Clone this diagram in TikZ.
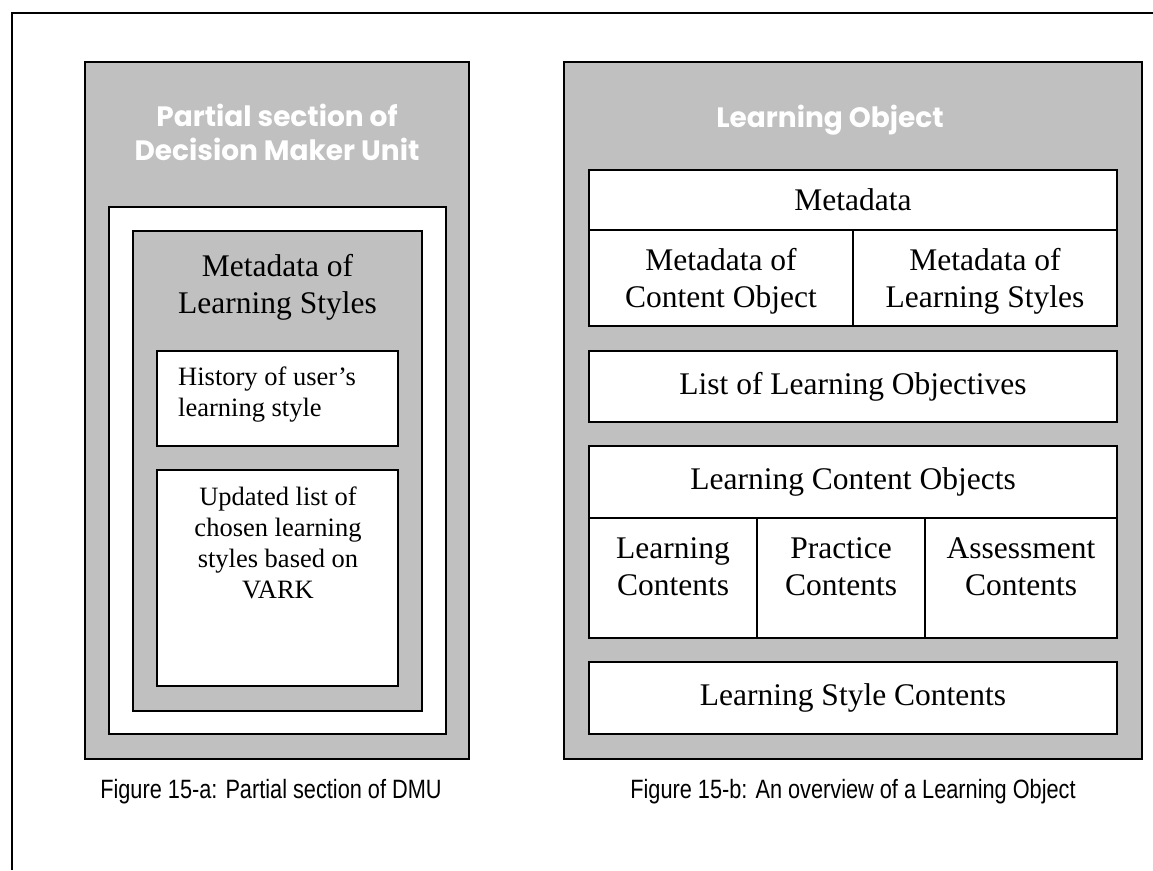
\documentclass[tikz,border=0pt]{standalone}
\usepackage{fontspec}
\setmainfont{Liberation Serif}
\newfontfamily\titlefont{Poppins}
\newfontfamily\capfont[FakeStretch=0.82]{Liberation Sans}
\definecolor{silverg}{HTML}{C0C0C0}
\begin{document}
\begin{tikzpicture}[x=1pt,y=-1pt,
  box/.style={draw=black,line width=1.6pt,inner sep=0pt,outer sep=0pt,rectangle},
  graybox/.style={box,fill=silverg},
  whitebox/.style={box,fill=white},
  ttl/.style={font=\titlefont\bfseries\fontsize{28}{34}\selectfont,text=white,align=center,inner sep=0pt},
  big/.style={font=\fontsize{31.5}{37}\selectfont,align=center,inner sep=0pt},
  small/.style={font=\fontsize{26.5}{31}\selectfont,inner sep=0pt},
  figcap/.style={font=\capfont\fontsize{26.5}{31}\selectfont,inner sep=0pt,anchor=base}
]
\useasboundingbox (0,0) rectangle (1153,870);
\draw[line width=2pt] (12,870) -- (12,13) -- (1153,13);

% ---- left figure ----
\node[graybox,minimum width=384pt,minimum height=697pt] (lgray) at (277,410.5) {};
\node[ttl,anchor=base] (ltitle) at (277,160) {Partial section of\\Decision Maker Unit};
\node[whitebox,minimum width=337pt,minimum height=527pt] (lwhite) at (277.5,470.5) {};
\node[graybox,minimum width=289pt,minimum height=480pt] (lgray2) at (277.5,471) {};
\node[big,anchor=base] (lmeta) at (277.5,313) {Metadata of\\Learning Styles};
\node[whitebox,minimum width=241pt,minimum height=95pt] (hist) at (277.5,398.5) {};
\node[small,align=left,anchor=base west] (histtxt) at (178,416) {History of user’s\\learning style};
\node[whitebox,minimum width=241pt,minimum height=216pt] (upd) at (277.5,578) {};
\node[small,align=center,anchor=base] (updtxt) at (278,598) {Updated list of\\chosen learning\\styles based on\\VARK};
\node[figcap] (capa) at (271,798) {Figure 15-a: Partial section of DMU};

% ---- right figure ----
\node[graybox,minimum width=578pt,minimum height=697pt] (rgray) at (853,410.5) {};
\node[ttl,anchor=base] (rtitle) at (830,127) {Learning Object};
\node[whitebox,minimum width=528pt,minimum height=60pt,big] (meta) at (853,200) {Metadata};
\node[whitebox,minimum width=264pt,minimum height=96pt] (mco) at (721,278) {};
\node[whitebox,minimum width=264pt,minimum height=96pt] (mls) at (985,278) {};
\node[big,anchor=base] (mcotxt) at (721,307) {Metadata of\\Content Object};
\node[big,anchor=base] (mlstxt) at (985,307) {Metadata of\\Learning Styles};
\node[whitebox,minimum width=528pt,minimum height=71pt,big] (lo) at (853,386.5) {List of Learning Objectives};
\node[whitebox,minimum width=528pt,minimum height=72pt,big] (lco) at (853,482) {Learning Content Objects};
\node[whitebox,minimum width=168pt,minimum height=120pt] (lc) at (673,578) {};
\node[whitebox,minimum width=168pt,minimum height=120pt] (pc) at (841,578) {};
\node[whitebox,minimum width=192pt,minimum height=120pt] (ac) at (1021,578) {};
\node[big,anchor=base] (lctxt) at (673,595) {Learning\\Contents};
\node[big,anchor=base] (pctxt) at (841,595) {Practice\\Contents};
\node[big,anchor=base] (actxt) at (1021,595) {Assessment\\Contents};
\node[whitebox,minimum width=528pt,minimum height=72pt,big] (lsc) at (853,698) {Learning Style Contents};
\node[figcap] (capb) at (853,798) {Figure 15-b: An overview of a Learning Object};
\end{tikzpicture}
\end{document}
